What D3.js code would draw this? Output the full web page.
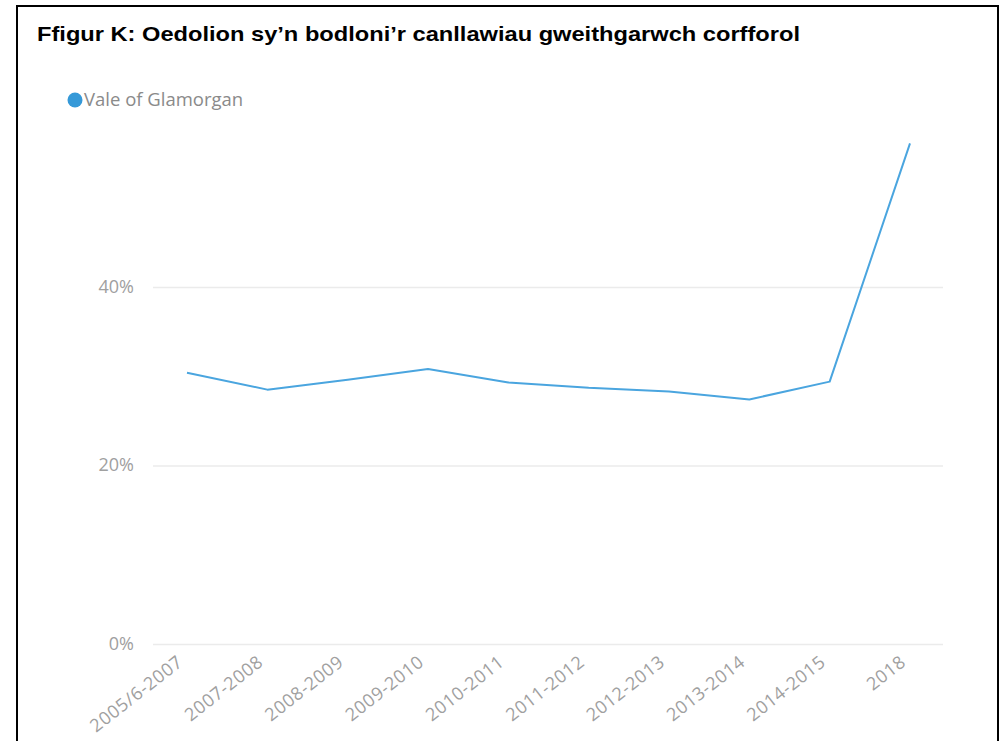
<!DOCTYPE html>
<html><head><meta charset="utf-8">
<script src="https://cdn.jsdelivr.net/npm/d3@7"></script>
<style>body{margin:0;background:#fff;} svg{display:block;}</style>
</head><body>
<svg id="c" width="1005" height="741"></svg>
<script>
const title = "Ffigur K: Oedolion sy’n bodloni’r canllawiau gweithgarwch corfforol";
const seriesName = "Vale of Glamorgan";
const categories = ["2005/6-2007","2007-2008","2008-2009","2009-2010","2010-2011","2011-2012","2012-2013","2013-2014","2014-2015","2018"];
const values = [30.4, 28.5, 29.6, 30.8, 29.3, 28.7, 28.3, 27.4, 29.4, 56.1];
const yTicks = [0, 20, 40];

const svg = d3.select("#c");
// frame
svg.append("rect").attr("x",17).attr("y",6).attr("width",981).attr("height",760)
  .attr("fill","#fff").attr("stroke","#000").attr("stroke-width",2);

const tt = svg.append("text").attr("x",37).attr("y",41)
  .attr("font-family","'Liberation Sans', Arial, sans-serif").attr("font-weight","bold")
  .attr("font-size",21).attr("fill","#000").text(title);
tt.attr("textLength",763).attr("lengthAdjust","spacingAndGlyphs");

// legend
svg.append("circle").attr("cx",75).attr("cy",100).attr("r",7.5).attr("fill","#3599d8");
svg.append("text").attr("x",84).attr("y",106).attr("font-family","'Open Sans', sans-serif")
  .attr("font-size",18.5).attr("fill","#8a8a8a").text(seriesName);

const x = d3.scalePoint().domain(categories).range([187,910]);
const y = d3.scaleLinear().domain([0,40]).range([644,287]);

// grid
const yAxis = svg.append("g")
  .call(d3.axisLeft(y).tickValues(yTicks).tickFormat(d=>d+"%").tickSize(0));
yAxis.select(".domain").remove();
yAxis.selectAll("text").attr("x",134).attr("dy","0.3em").attr("font-family","'Open Sans', sans-serif")
  .attr("font-size",18).attr("fill","#a0a0a0").attr("text-anchor","end");
yAxis.selectAll(".tick").append("line").attr("x1",153).attr("x2",943)
  .attr("stroke","#ebebeb").attr("stroke-width",1.5);

// x axis
const xAxis = svg.append("g").attr("transform","translate(0,648)")
  .call(d3.axisBottom(x).tickSize(0));
xAxis.select(".domain").remove();
xAxis.selectAll("text").attr("font-family","'Open Sans', sans-serif").attr("font-size",18)
  .attr("letter-spacing","0.6px")
  .attr("fill","#a0a0a0").attr("text-anchor","end").attr("dy","0.75em").attr("y",0).attr("x",-6)
  .attr("transform","translate(-7,2) rotate(-38)");

// line
svg.append("path").datum(values).attr("fill","none").attr("stroke","#4aa5df").attr("stroke-width",2)
  .attr("stroke-linejoin","round")
  .attr("d", d3.line().x((d,i)=>x(categories[i])).y(d=>y(d)));
</script>
</body></html>
